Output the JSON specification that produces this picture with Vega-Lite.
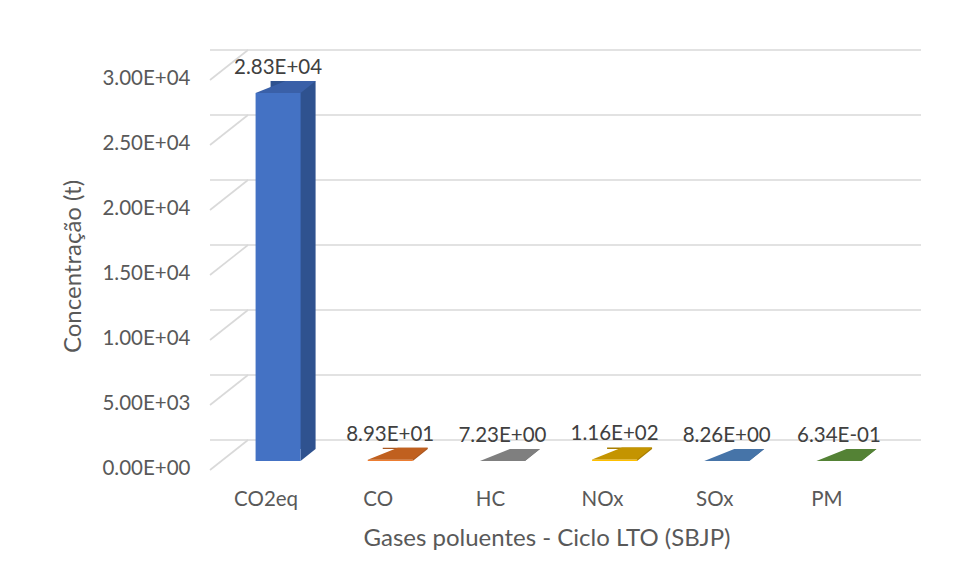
{
  "$schema": "https://vega.github.io/schema/vega-lite/v6.json",
  "width": 673,
  "height": 390,
  "autosize": {"type": "none"},
  "padding": {"left": 210, "top": 71, "right": 74, "bottom": 124},
  "background": "white",
  "config": {
    "view": {"stroke": null},
    "font": "Lato",
    "axis": {"grid": false, "ticks": false, "domain": false, "labelColor": "#595959", "labelFontSize": 20.5, "titleColor": "#595959", "titleFontSize": 24, "titleFontWeight": "normal"},
    "axisY": {"labelPadding": 20, "labelOffset": 7, "titlePadding": 16, "tickCount": 6, "labelExpr": "replace(format(datum.value, '.2e'), 'e+', 'E+0')"},
    "axisX": {"labelAngle": 0, "labelPadding": 28, "titlePadding": 17}
  },
  "datasets": {
    "gases": [
      {"gas": "CO2eq", "value": 28300, "label": "2.83E+04"},
      {"gas": "CO", "value": 89.3, "label": "8.93E+01"},
      {"gas": "HC", "value": 7.23, "label": "7.23E+00"},
      {"gas": "NOx", "value": 116, "label": "1.16E+02"},
      {"gas": "SOx", "value": 8.26, "label": "8.26E+00"},
      {"gas": "PM", "value": 0.634, "label": "6.34E-01"}
    ],
    "grid": [{"v": 0}, {"v": 5000}, {"v": 10000}, {"v": 15000}, {"v": 20000}, {"v": 25000}, {"v": 30000}]
  },
  "resolve": {"scale": {"color": "independent"}},
  "layer": [
    {
      "data": {"name": "grid"},
      "mark": {"type": "rule", "color": "#d9d9d9", "strokeWidth": 1.6, "xOffset": 38, "x2Offset": 38, "yOffset": -21, "y2Offset": -21},
      "encoding": {
        "y": {"field": "v", "type": "quantitative", "title": "Concentração (t)", "scale": {"domain": [0, 30000], "nice": false}}
      }
    },
    {
      "data": {"name": "grid"},
      "mark": {"type": "rule", "color": "#d9d9d9", "strokeWidth": 1.6, "xOffset": 0, "x2Offset": 38, "yOffset": 9, "y2Offset": -21},
      "encoding": {
        "x": {"datum": "CO2eq", "type": "nominal", "bandPosition": 0, "title": "Gases poluentes - Ciclo LTO (SBJP)"},
        "x2": {"datum": "CO2eq", "bandPosition": 0},
        "y": {"field": "v", "type": "quantitative", "title": "Concentração (t)"},
        "y2": {"field": "v"}
      }
    },
    {
      "data": {"name": "gases"},
      "mark": {"type": "bar", "width": 45, "xOffset": 27, "yOffset": -12, "y2Offset": -12},
      "encoding": {
        "x": {"field": "gas", "type": "nominal", "title": "Gases poluentes - Ciclo LTO (SBJP)", "sort": ["CO2eq", "CO", "HC", "NOx", "SOx", "PM"], "scale": {"paddingInner": 0, "paddingOuter": 0}},
        "y": {"field": "value", "type": "quantitative", "title": "Concentração (t)"},
        "y2": {"datum": 0},
        "color": {"field": "gas", "type": "nominal", "legend": null, "scale": {"domain": ["CO2eq", "CO", "HC", "NOx", "SOx", "PM"], "range": ["#2F528F", "#A8561F", "#6E6E6E", "#A87E00", "#3C6694", "#4A7530"]}}
      }
    },
    {
      "data": {"name": "gases"},
      "mark": {"type": "point", "filled": true, "opacity": 1, "strokeWidth": 0, "size": 3600, "xOffset": 12, "shape": "M0.75,-0.4L0.75,0L1.25,-0.4Z"},
      "encoding": {
        "x": {"field": "gas", "type": "nominal", "title": "Gases poluentes - Ciclo LTO (SBJP)", "sort": ["CO2eq", "CO", "HC", "NOx", "SOx", "PM"]},
        "y": {"datum": 0, "type": "quantitative", "title": "Concentração (t)"},
        "color": {"field": "gas", "type": "nominal", "legend": null, "scale": {"domain": ["CO2eq", "CO", "HC", "NOx", "SOx", "PM"], "range": ["#2F528F", "#A8561F", "#6E6E6E", "#A87E00", "#3C6694", "#4A7530"]}}
      }
    },
    {
      "data": {"name": "gases"},
      "mark": {"type": "bar", "width": 45, "xOffset": 12},
      "encoding": {
        "x": {"field": "gas", "type": "nominal", "title": "Gases poluentes - Ciclo LTO (SBJP)", "sort": ["CO2eq", "CO", "HC", "NOx", "SOx", "PM"]},
        "y": {"field": "value", "type": "quantitative", "title": "Concentração (t)"},
        "y2": {"datum": 0},
        "color": {"field": "gas", "type": "nominal", "legend": null, "scale": {"domain": ["CO2eq", "CO", "HC", "NOx", "SOx", "PM"], "range": ["#4472C4", "#ED7D31", "#A5A5A5", "#FFC000", "#5B9BD5", "#70AD47"]}}
      }
    },
    {
      "data": {"name": "gases"},
      "mark": {"type": "point", "filled": true, "opacity": 1, "strokeWidth": 0, "size": 3600, "xOffset": 12, "shape": "M-0.75,0L0.75,0L1.25,-0.4L0.25,-0.4Z"},
      "encoding": {
        "x": {"field": "gas", "type": "nominal", "title": "Gases poluentes - Ciclo LTO (SBJP)", "sort": ["CO2eq", "CO", "HC", "NOx", "SOx", "PM"]},
        "y": {"field": "value", "type": "quantitative", "title": "Concentração (t)"},
        "color": {"field": "gas", "type": "nominal", "legend": null, "scale": {"domain": ["CO2eq", "CO", "HC", "NOx", "SOx", "PM"], "range": ["#3A60A8", "#C0601F", "#7F7F7F", "#C49400", "#4674A8", "#548235"]}}
      }
    },
    {
      "data": {"name": "gases"},
      "mark": {"type": "text", "fontSize": 20.5, "color": "#404040", "dx": 12, "dy": -25, "baseline": "middle"},
      "encoding": {
        "x": {"field": "gas", "type": "nominal", "title": "Gases poluentes - Ciclo LTO (SBJP)", "sort": ["CO2eq", "CO", "HC", "NOx", "SOx", "PM"]},
        "y": {"field": "value", "type": "quantitative", "title": "Concentração (t)"},
        "text": {"field": "label"}
      }
    }
  ]
}
